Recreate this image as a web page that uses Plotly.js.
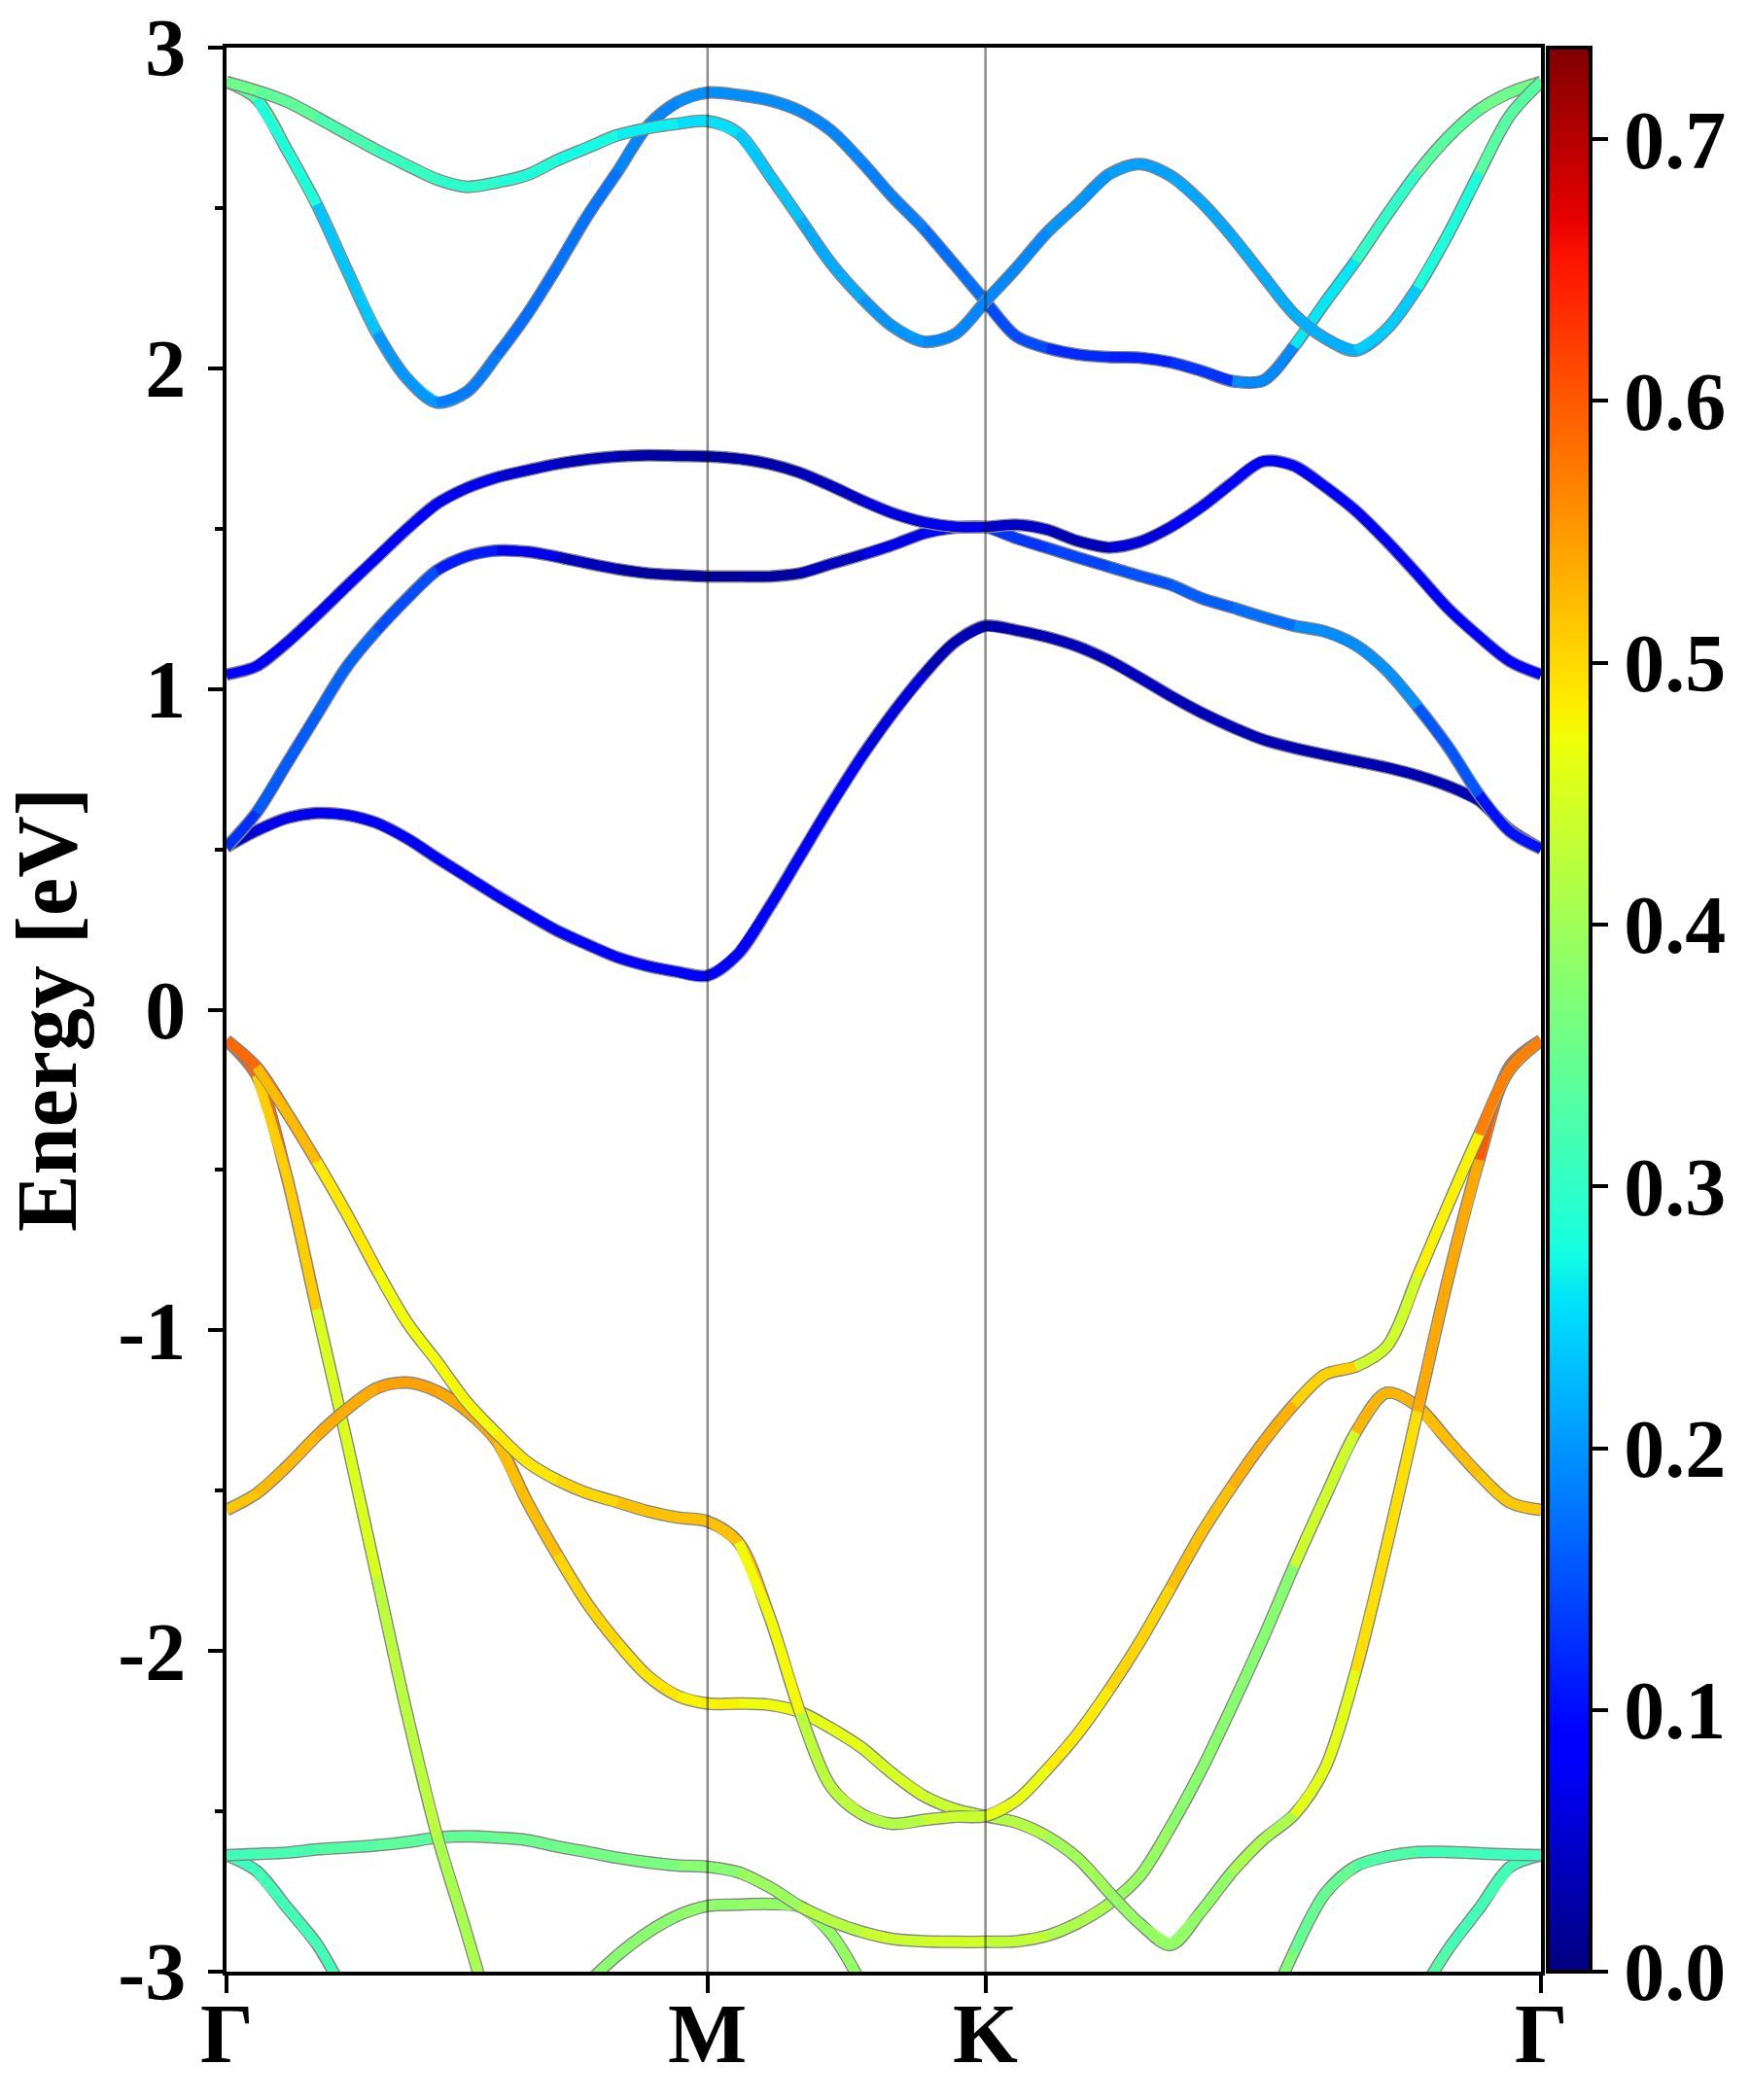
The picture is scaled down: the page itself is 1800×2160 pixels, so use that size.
<!DOCTYPE html>
<html><head><meta charset="utf-8">
<script src="https://cdn.plot.ly/plotly-3.0.1.min.js"></script>
<style>html,body{margin:0;padding:0;background:#fff}#chart{width:1800px;height:2160px}</style>
</head><body><div id="chart"></div>
<script>
const N = null;
// k-path positions (fraction of total path length), high-symmetry points
const kTicks = [0, 0.366, 0.5774, 1];
const kLabels = ['Γ', 'M', 'K', 'Γ'];
const eTicks = [-3, -2, -1, 0, 1, 2, 3];
const eTickLabels = ['-3', '-2', '-1', '0', '1', '2', '3'];
const cTicks = [0, 0.1, 0.2, 0.3, 0.4, 0.5, 0.6, 0.7];
const cTickLabels = ['0.0', '0.1', '0.2', '0.3', '0.4', '0.5', '0.6', '0.7'];
const CMAX = 0.735;

const kPath = [0, 0.0229, 0.0458, 0.0686, 0.0915, 0.1144, 0.1373, 0.1601, 0.1830, 0.2059, 0.2288, 0.2516, 0.2745, 0.2974, 0.3203, 0.3431, 0.3660,
  0.3895, 0.4130, 0.4365, 0.4600, 0.4834, 0.5069, 0.5304, 0.5539, 0.5774,
  0.6009, 0.6243, 0.6478, 0.6713, 0.6948, 0.7183, 0.7417, 0.7652, 0.7887, 0.8122, 0.8357, 0.8591, 0.8826, 0.9061, 0.9296, 0.9530, 0.9765, 1.0000];

// conduction bands: energy (eV) and weight
const eCA = [2.893, 2.866, 2.832, 2.783, 2.731, 2.680, 2.633, 2.589, 2.566, 2.580, 2.603, 2.649, 2.688, 2.727, 2.749, 2.763, 2.771,
  2.733, 2.603, 2.465, 2.327, 2.219, 2.130, 2.083, 2.106, 2.209,
  2.313, 2.424, 2.513, 2.605, 2.637, 2.600, 2.518, 2.410, 2.288, 2.169, 2.094, 2.055, 2.122, 2.252, 2.420, 2.609, 2.789, 2.893];
const wCA = [0.36, 0.355, 0.35, 0.34, 0.33, 0.32, 0.31, 0.305, 0.30, 0.295, 0.29, 0.285, 0.28, 0.275, 0.27, 0.265, 0.26,
  0.255, 0.245, 0.235, 0.225, 0.215, 0.205, 0.2, 0.195, 0.185,
  0.185, 0.19, 0.195, 0.2, 0.205, 0.21, 0.21, 0.215, 0.215, 0.22, 0.215, 0.215, 0.225, 0.24, 0.255, 0.28, 0.31, 0.36];
const eCB = [2.893, 2.840, 2.682, 2.511, 2.307, 2.110, 1.968, 1.893, 1.927, 2.041, 2.169, 2.317, 2.475, 2.613, 2.755, 2.830, 2.860,
  2.852, 2.836, 2.802, 2.741, 2.643, 2.534, 2.436, 2.323, 2.209,
  2.100, 2.063, 2.043, 2.035, 2.033, 2.019, 1.992, 1.960, 1.962, 2.069, 2.205, 2.335, 2.477, 2.611, 2.722, 2.807, 2.860, 2.893];
const wCB = [0.36, 0.34, 0.31, 0.28, 0.255, 0.235, 0.215, 0.2, 0.19, 0.18, 0.175, 0.17, 0.17, 0.175, 0.18, 0.19, 0.195,
  0.195, 0.195, 0.195, 0.19, 0.19, 0.185, 0.185, 0.18, 0.175,
  0.16, 0.145, 0.13, 0.12, 0.115, 0.11, 0.115, 0.125, 0.145, 0.19, 0.24, 0.26, 0.28, 0.30, 0.32, 0.34, 0.35, 0.36];
const eCC = [1.045, 1.071, 1.144, 1.230, 1.321, 1.410, 1.499, 1.578, 1.627, 1.660, 1.682, 1.702, 1.716, 1.725, 1.729, 1.727, 1.725,
  1.718, 1.702, 1.674, 1.633, 1.588, 1.548, 1.520, 1.506, 1.505,
  1.512, 1.497, 1.461, 1.441, 1.459, 1.505, 1.568, 1.643, 1.710, 1.696, 1.631, 1.556, 1.461, 1.357, 1.250, 1.163, 1.086, 1.045];
const wCC = [0.08, 0.085, 0.09, 0.09, 0.09, 0.09, 0.09, 0.085, 0.08, 0.07, 0.06, 0.05, 0.04, 0.035, 0.03, 0.025, 0.02,
  0.02, 0.025, 0.03, 0.035, 0.04, 0.05, 0.06, 0.07, 0.08,
  0.06, 0.045, 0.035, 0.03, 0.04, 0.06, 0.075, 0.085, 0.09, 0.09, 0.09, 0.085, 0.085, 0.085, 0.08, 0.08, 0.08, 0.08];
const eCD = [0.507, 0.615, 0.767, 0.919, 1.069, 1.183, 1.282, 1.370, 1.414, 1.432, 1.428, 1.412, 1.392, 1.374, 1.361, 1.355, 1.351,
  1.351, 1.351, 1.361, 1.390, 1.418, 1.449, 1.485, 1.503, 1.505,
  1.470, 1.440, 1.410, 1.381, 1.352, 1.325, 1.283, 1.254, 1.224, 1.197, 1.179, 1.137, 1.058, 0.945, 0.818, 0.670, 0.555, 0.502];
const wCD = [0.1, 0.13, 0.15, 0.16, 0.165, 0.165, 0.16, 0.15, 0.13, 0.11, 0.09, 0.07, 0.05, 0.035, 0.025, 0.02, 0.015,
  0.015, 0.015, 0.02, 0.03, 0.04, 0.055, 0.07, 0.08, 0.09,
  0.125, 0.13, 0.135, 0.14, 0.145, 0.15, 0.155, 0.16, 0.165, 0.17, 0.18, 0.195, 0.205, 0.2, 0.185, 0.16, 0.115, 0.09];
const eCE = [0.507, 0.558, 0.597, 0.613, 0.607, 0.582, 0.534, 0.473, 0.414, 0.355, 0.299, 0.246, 0.203, 0.163, 0.136, 0.118, 0.106,
  0.175, 0.320, 0.480, 0.640, 0.790, 0.925, 1.045, 1.145, 1.197,
  1.183, 1.162, 1.132, 1.089, 1.035, 0.978, 0.926, 0.881, 0.842, 0.816, 0.795, 0.775, 0.755, 0.730, 0.697, 0.652, 0.561, 0.502];
const wCE = [0.03, 0.05, 0.065, 0.07, 0.075, 0.075, 0.075, 0.075, 0.08, 0.08, 0.08, 0.085, 0.085, 0.085, 0.09, 0.09, 0.09,
  0.09, 0.095, 0.095, 0.09, 0.085, 0.075, 0.06, 0.045, 0.03,
  0.03, 0.03, 0.035, 0.035, 0.04, 0.04, 0.04, 0.035, 0.035, 0.035, 0.03, 0.03, 0.03, 0.03, 0.035, 0.035, 0.03, 0.03];

// valence bands
const eVA = [-0.096, -0.179, -0.321, -0.474, -0.637, -0.813, -0.975, -1.097, -1.225, -1.323, -1.411, -1.467, -1.508, -1.536, -1.564, -1.584, -1.596,
  -1.661, -1.892, -2.193, -2.424, -2.509, -2.539, -2.527, -2.517, -2.515,
  -2.466, -2.369, -2.257, -2.122, -1.972, -1.803, -1.633, -1.485, -1.349, -1.231, -1.138, -1.113, -1.051, -0.832, -0.606, -0.389, -0.186, -0.096];
const wVA = [0.63, 0.585, 0.55, 0.52, 0.5, 0.485, 0.475, 0.47, 0.47, 0.475, 0.48, 0.49, 0.495, 0.5, 0.51, 0.52, 0.525,
  0.53, 0.5, 0.475, 0.445, 0.42, 0.41, 0.415, 0.425, 0.435,
  0.455, 0.465, 0.475, 0.485, 0.495, 0.5, 0.51, 0.52, 0.525, 0.53, 0.54, 0.545, 0.43, 0.44, 0.455, 0.475, 0.51, 0.63];
const eVB = [-1.560, -1.509, -1.425, -1.329, -1.246, -1.180, -1.163, -1.190, -1.252, -1.347, -1.535, -1.700, -1.852, -1.974, -2.077, -2.140, -2.164,
  -2.164, -2.168, -2.190, -2.241, -2.302, -2.383, -2.452, -2.493, -2.515,
  -2.535, -2.578, -2.647, -2.752, -2.850, -2.917, -2.811, -2.688, -2.588, -2.511, -2.365, -2.063, -1.673, -1.253, -0.834, -0.468, -0.175, -0.096];
const wVB = [0.51, 0.515, 0.52, 0.525, 0.53, 0.535, 0.54, 0.545, 0.545, 0.54, 0.53, 0.52, 0.51, 0.5, 0.495, 0.49, 0.485,
  0.48, 0.475, 0.47, 0.465, 0.46, 0.455, 0.45, 0.445, 0.44,
  0.43, 0.415, 0.405, 0.4, 0.395, 0.39, 0.385, 0.385, 0.39, 0.405, 0.435, 0.465, 0.48, 0.495, 0.51, 0.535, 0.57, 0.63];
const eVC = [-0.096, -0.205, -0.520, -0.935, -1.345, -1.770, -2.195, -2.575, -2.884, -3.210, N, N, N, N, N, N, N,
  N, N, N, N, N, N, N, N, N,
  N, N, N, N, N, N, N, N, N, N, N, N, N, N, N, N, N, N];
const wVC = [0.63, 0.59, 0.55, 0.505, 0.47, 0.45, 0.435, 0.425, 0.41, 0.405, N, N, N, N, N, N, N,
  N, N, N, N, N, N, N, N, N,
  N, N, N, N, N, N, N, N, N, N, N, N, N, N, N, N, N, N];
const eVD = [-2.637, -2.633, -2.629, -2.619, -2.613, -2.606, -2.596, -2.582, -2.578, -2.582, -2.590, -2.610, -2.627, -2.645, -2.659, -2.669, -2.673,
  -2.690, -2.736, -2.797, -2.842, -2.876, -2.898, -2.905, -2.907, -2.907,
  -2.905, -2.888, -2.848, -2.789, -2.702, -2.548, -2.371, -2.170, -1.959, -1.734, -1.521, -1.318, -1.195, -1.237, -1.345, -1.450, -1.537, -1.560];
const wVD = [0.31, 0.31, 0.315, 0.32, 0.325, 0.33, 0.335, 0.34, 0.34, 0.345, 0.35, 0.35, 0.355, 0.36, 0.36, 0.365, 0.37,
  0.375, 0.385, 0.395, 0.41, 0.42, 0.43, 0.44, 0.445, 0.45,
  0.44, 0.43, 0.42, 0.41, 0.4, 0.39, 0.385, 0.38, 0.375, 0.375, 0.385, 0.41, 0.53, 0.53, 0.525, 0.52, 0.515, 0.51];
const eVE = [-2.637, -2.686, -2.799, -2.913, -3.080, N, N, N, N, N, N, N, N, N, N, N, N,
  N, N, N, N, N, N, N, N, N,
  N, N, N, N, N, N, N, N, N, N, N, N, N, N, N, N, N, N];
const wVE = [0.31, 0.31, 0.31, 0.315, 0.32, N, N, N, N, N, N, N, N, N, N, N, N,
  N, N, N, N, N, N, N, N, N,
  N, N, N, N, N, N, N, N, N, N, N, N, N, N, N, N, N, N];
const eVF = [N, N, N, N, N, N, N, N, N, N, N, N, -3.036, -2.949, -2.878, -2.825, -2.795,
  -2.791, -2.789, -2.797, -2.882, -3.040, N, N, N, N,
  N, N, N, N, N, N, N, N, N, N, N, N, N, N, N, N, N, N];
const wVF = [N, N, N, N, N, N, N, N, N, N, N, N, 0.38, 0.38, 0.38, 0.38, 0.38,
  0.385, 0.385, 0.39, 0.39, 0.39, N, N, N, N,
  N, N, N, N, N, N, N, N, N, N, N, N, N, N, N, N, N, N];
const eVG = [N, N, N, N, N, N, N, N, N, N, N, N, N, N, N, N, N,
  N, N, N, N, N, N, N, N, N,
  N, N, N, N, N, N, N, N, -3.160, -2.937, -2.757, -2.671, -2.641, -2.627, -2.627, -2.631, -2.635, -2.637];
const wVG = [N, N, N, N, N, N, N, N, N, N, N, N, N, N, N, N, N,
  N, N, N, N, N, N, N, N, N,
  N, N, N, N, N, N, N, N, 0.38, 0.375, 0.36, 0.345, 0.335, 0.325, 0.32, 0.315, 0.31, 0.31];
const eVH = [N, N, N, N, N, N, N, N, N, N, N, N, N, N, N, N, N,
  N, N, N, N, N, N, N, N, N,
  N, N, N, N, N, N, N, N, N, N, N, N, N, -3.085, -2.929, -2.803, -2.673, -2.637];
const wVH = [N, N, N, N, N, N, N, N, N, N, N, N, N, N, N, N, N,
  N, N, N, N, N, N, N, N, N,
  N, N, N, N, N, N, N, N, N, N, N, N, N, 0.335, 0.33, 0.32, 0.315, 0.31];

const bands = [
  [eVH, wVH], [eVG, wVG], [eVF, wVF], [eVE, wVE], [eVD, wVD], [eVC, wVC], [eVB, wVB], [eVA, wVA],
  [eCE, wCE], [eCD, wCD], [eCC, wCC], [eCB, wCB], [eCA, wCA]
];

// matplotlib "jet" colormap stops
const jetStops = [[0, [0, 0, 128]], [0.11, [0, 0, 255]], [0.125, [0, 0, 255]], [0.34, [0, 219, 255]], [0.35, [0, 229, 247]],
  [0.375, [21, 255, 226]], [0.64, [238, 255, 8]], [0.65, [247, 245, 0]], [0.66, [255, 236, 0]], [0.89, [255, 19, 0]],
  [0.91, [232, 0, 0]], [1, [128, 0, 0]]];
const jetScale = jetStops.map(s => [s[0], 'rgb(' + s[1].join(',') + ')']);
function jetColor(f) {
  f = Math.max(0, Math.min(1, f));
  for (let i = 0; i < jetStops.length - 1; i++) {
    const a = jetStops[i], b = jetStops[i + 1];
    if (f >= a[0] && f <= b[0]) {
      const t = (f - a[0]) / (b[0] - a[0] || 1);
      const c = a[1].map((v, j) => Math.round(v + (b[1][j] - v) * t));
      return 'rgb(' + c.join(',') + ')';
    }
  }
  return 'rgb(128,0,0)';
}

const FONT = "'Liberation Serif', 'Times New Roman', serif";
const LW = 10;
const SMOOTH = 0.9;
const traces = [];
bands.forEach((b, bi) => {
  const e = b[0], w = b[1];
  // grey outline of the whole band
  traces.push({x: kPath, y: e, mode: 'lines', connectgaps: false,
    line: {color: '#858585', width: LW + 3, shape: 'spline', smoothing: SMOOTH}, hoverinfo: 'skip', showlegend: false});
  let i0 = -1, i1 = -1;
  for (let i = 0; i < e.length; i++) if (e[i] != null) { if (i0 < 0) i0 = i; i1 = i; }
  // coloured pieces: two segments each, drawn with one neighbour point on each side so the spline matches
  for (let s = i0; s < i1; s += 2) {
    const eEnd = Math.min(s + 2, i1);
    const a = Math.max(i0, s - 1), z = Math.min(i1, eEnd + 1);
    let sum = 0, n = 0;
    for (let i = s; i <= eEnd; i++) { sum += w[i]; n++; }
    const col = jetColor((sum / n) / CMAX);
    traces.push({x: kPath.slice(a, z + 1), y: e.slice(a, z + 1), mode: 'lines',
      line: {color: col, width: LW, shape: 'spline', smoothing: SMOOTH}, hoverinfo: 'skip', showlegend: false});
  }
  // weight values mapped through the colour scale (carries the colour bar)
  const last = bi === bands.length - 1;
  traces.push({x: kPath, y: e, mode: 'markers', hoverinfo: 'skip', showlegend: false,
    marker: {color: w, colorscale: jetScale, cmin: 0, cmax: CMAX, size: LW - 2, opacity: 0, line: {width: 0},
      showscale: last,
      colorbar: {x: 1.0052, xanchor: 'left', y: 0.5, yanchor: 'middle', len: 1, lenmode: 'fraction',
        thickness: 44, thicknessmode: 'pixels', outlinewidth: 4, outlinecolor: 'black',
        xpad: 0, ypad: 0, ticks: 'outside', ticklen: 16, tickwidth: 4, tickcolor: 'black',
        tickmode: 'array', tickvals: cTicks, ticktext: cTickLabels,
        tickfont: {family: FONT, size: 84, color: 'black', weight: 'bold'}}}});
});

const vlines = kTicks.slice(1, 3).map(k => ({type: 'line', xref: 'x', yref: 'paper', x0: k, x1: k, y0: 0, y1: 1,
  layer: 'above', line: {color: 'rgba(0,0,0,0.45)', width: 2.5}}));
const kAnnotations = kTicks.map((k, i) => ({x: k, xref: 'x', y: 0, yref: 'paper', yanchor: 'top', yshift: -14,
  text: kLabels[i], showarrow: false, font: {family: FONT, size: 86, color: 'black', weight: 'bold'}}));

const layout = {
  width: 1800, height: 2160,
  margin: {l: 233, r: 215, t: 49, b: 132, pad: 0},
  paper_bgcolor: 'white', plot_bgcolor: 'white',
  font: {family: FONT, size: 84, color: 'black', weight: 'bold'},
  showlegend: false,
  xaxis: {range: [0, 1], tickmode: 'array', tickvals: kTicks, showticklabels: false,
    ticks: 'outside', ticklen: 18, tickwidth: 4, tickcolor: 'black',
    showline: true, linewidth: 4, linecolor: 'black', mirror: true, showgrid: false, zeroline: false},
  yaxis: {range: [-3, 3], tickmode: 'array', tickvals: eTicks, ticktext: eTickLabels,
    ticks: 'outside', ticklen: 15, tickwidth: 4, tickcolor: 'black', ticklabelstandoff: 6,
    minor: {tickmode: 'linear', tick0: 0, dtick: 0.5, ticks: 'outside', ticklen: 8, tickwidth: 4, tickcolor: 'black', showgrid: false},
    showline: true, linewidth: 4, linecolor: 'black', mirror: true, showgrid: false, zeroline: false,
    tickfont: {family: FONT, size: 84, color: 'black', weight: 'bold'},
    title: {text: 'Energy [eV]', standoff: 22, font: {family: FONT, size: 88, color: 'black', weight: 'bold'}}},
  shapes: vlines,
  annotations: kAnnotations
};

Plotly.newPlot('chart', traces, layout, {staticPlot: true, displayModeBar: false});
</script>
</body></html>
